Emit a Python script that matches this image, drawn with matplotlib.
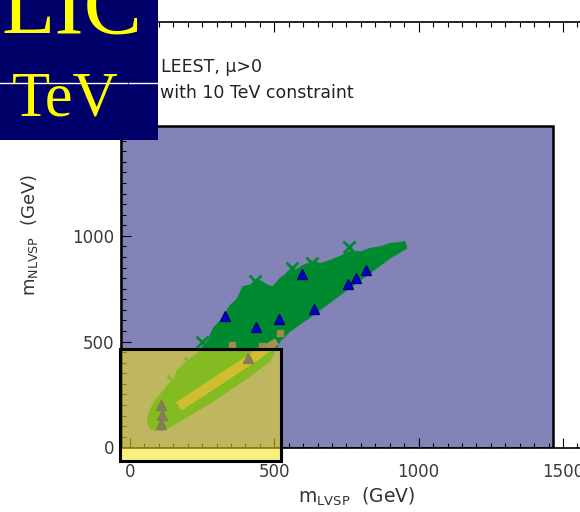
import matplotlib
matplotlib.use('Agg')
import matplotlib.pyplot as plt
from matplotlib.patches import Rectangle, Polygon
from matplotlib.lines import Line2D
from matplotlib.ticker import MultipleLocator

# outline of the scanned (green) region, m_LVSP vs m_NLVSP in GeV
region_x = [59, 69, 87, 114, 128, 149, 163, 197, 232, 253, 270, 288, 320, 346, 370,
            391, 425, 450, 480, 495, 520, 544, 575, 599, 634, 660, 693, 730, 762, 800,
            831, 870, 901, 930, 953, 959, 901, 821, 727, 634, 554, 520, 485, 405, 288,
            173, 114, 87, 69]
region_y = [123, 175, 222, 265, 293, 312, 364, 407, 444, 478, 505, 563, 610, 671, 700,
            761, 770, 790, 765, 761, 800, 823, 840, 861, 879, 870, 884, 905, 927, 925,
            941, 950, 965, 968, 974, 941, 894, 813, 719, 624, 548, 501, 407, 326, 217,
            123, 80, 80, 90]

# narrow tan band inside the region
band_x = [159, 423, 502, 516, 443, 180]
band_y = [213, 449, 515, 487, 411, 175]
blob_x = [353, 457, 520]
blob_y = [482, 478, 539]

# isolated crosses sticking out of the region
cross_x = [630, 433, 208, 149, 250, 760, 560]
cross_y = [870, 785, 397, 312, 500, 945, 850]

# triangle points
tri_x = [329, 436, 516, 596, 637, 755, 783, 817, 107, 111, 107, 409]
tri_y = [619, 567, 605, 818, 652, 771, 799, 837, 199, 151, 109, 421]

xticks = [0, 500, 1000, 1500]
yticks = [0, 500, 1000]

fig = plt.figure(figsize=(5.8, 5.12), dpi=100)
ax = fig.add_axes([121.3 / 580, 64 / 512, 470.6 / 580, 426 / 512])
ax.set_xlim(-30, 1600)
ax.set_ylim(-3, 2011)

# shaded boxes
ax.add_patch(Rectangle((-30, -3), 1495, 1521, facecolor='#8383b8',
                       edgecolor='black', lw=1.8, zorder=0.5))
ax.add_patch(Polygon(list(zip(region_x, region_y)), closed=True,
                     facecolor='#008a30', edgecolor='#008a30', lw=0.5, zorder=2))
ax.add_patch(Polygon(list(zip(band_x, band_y)), closed=True,
                     facecolor='#a89050', edgecolor='none', zorder=2.1))
ax.plot(blob_x, blob_y, 's', color='#a08a50', ms=5, zorder=2.1)
ax.plot(cross_x, cross_y, 'x', color='#008a30', ms=8, mew=2, zorder=2.2)
ax.plot(tri_x, tri_y, '^', color='#0000c8', mec='#000080', ms=7, zorder=3)
ax.add_patch(Rectangle((-35, -66), 558, 529, facecolor=(0.95, 0.89, 0.09, 0.55),
                       edgecolor='black', lw=2.2, zorder=5, clip_on=False))

ax.set_xticks(xticks)
ax.set_yticks(yticks)
ax.xaxis.set_minor_locator(MultipleLocator(50))
ax.yaxis.set_minor_locator(MultipleLocator(50))
ax.tick_params(which='both', direction='in', top=True, right=True, width=0.8,
               labelsize=12, labelcolor='#3a3a3a')
ax.tick_params(which='major', length=7)
ax.tick_params(which='minor', length=3.5)
ax.tick_params(axis='x', pad=11)
ax.tick_params(axis='y', pad=5)
for s in ax.spines.values():
    s.set_linewidth(1.2)

ax.set_xlabel('m$_{\\rm LVSP}$  (GeV)', fontsize=13.5, color='#333333')
ax.set_ylabel('m$_{\\rm NLVSP}$  (GeV)', fontsize=13, color='#333333')
ax.xaxis.set_label_coords(0.5, -0.088)
ax.yaxis.set_label_coords(-0.172, 0.5)

fig.text(161 / 580, 1 - 72 / 512, 'LEEST, \u03bc>0', fontsize=12.5, color='#222222',
         va='baseline')
fig.text(160 / 580, 1 - 98 / 512, 'with 10 TeV constraint', fontsize=12.5,
         color='#222222', va='baseline')

# title box in the corner
fig.add_artist(Rectangle((0, 1 - 140 / 512), 158 / 580, 140 / 512, facecolor='#00006a',
                         edgecolor='none', transform=fig.transFigure, zorder=10))
fig.add_artist(Line2D([0, 127 / 580], [1 - 83 / 512] * 2, color='white', lw=1,
                      transform=fig.transFigure, zorder=11))
fig.add_artist(Line2D([129 / 580, 158 / 580], [1 - 83 / 512] * 2, color='white', lw=1,
                      transform=fig.transFigure, zorder=11))
fig.text(2 / 580, 1 - 33 / 512, 'LIC', family='Liberation Serif', fontsize=63,
         color='#ffff00', va='baseline', zorder=12)
fig.text(12 / 580, 1 - 115 / 512, 'TeV', family='Liberation Serif', fontsize=45,
         color='#ffff00', va='baseline', zorder=12)

fig.savefig('out.png', dpi=100)
